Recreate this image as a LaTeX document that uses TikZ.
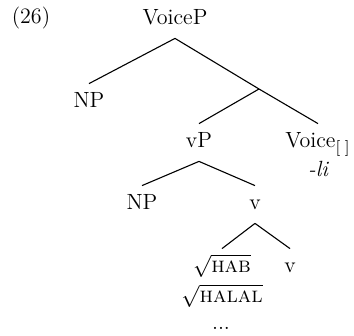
\documentclass[tikz,border=0pt]{standalone}
\begin{document}
\begin{tikzpicture}[x=0.5pt,y=-0.5pt,
  lbl/.style={font=\fontsize{11}{13}\selectfont, anchor=base, inner sep=0pt},
  tnode/.style={lbl, text height=7pt, text depth=1.5pt, inner sep=5pt},
  branch/.style={line width=0.55pt}]
\useasboundingbox (0,0) rectangle (354,336);

% example number
\node[lbl] (exnum) at (31,24) {(26)};

% tree nodes (placed by baseline)
\node[tnode] (voicep) at (175,25) {VoiceP};
\node[tnode] (np1) at (89,108) {NP};
\coordinate (vbar) at (259,89);
\node[tnode] (vp) at (199,148) {vP};
\node[tnode] (voice) at (318,148) {Voice$_{[\;]}$};
\node[lbl] (li) at (318,177) {\itshape -li};
\node[tnode] (np2) at (142,210) {NP};
\node[tnode] (v1) at (255,210) {v};
\node[tnode] (hab) at (222,273) {$\sqrt{\textsc{hab}}$};
\node[tnode] (v2) at (290,273) {v};
\node[lbl] (halal) at (222,303) {$\sqrt{\textsc{halal}}$};
\node[lbl] (dots) at (221,330) {...};

% branches
\draw[branch] (voicep.south) -- (np1.north);
\draw[branch] (voicep.south) -- (vbar);
\draw[branch] (vbar) -- (vp.north);
\draw[branch] (vbar) -- (voice.north);
\draw[branch] (vp.south) -- (np2.north);
\draw[branch] (vp.south) -- (v1.north);
\draw[branch] (v1.south) -- (hab.north);
\draw[branch] (v1.south) -- (v2.north);
\end{tikzpicture}
\end{document}
